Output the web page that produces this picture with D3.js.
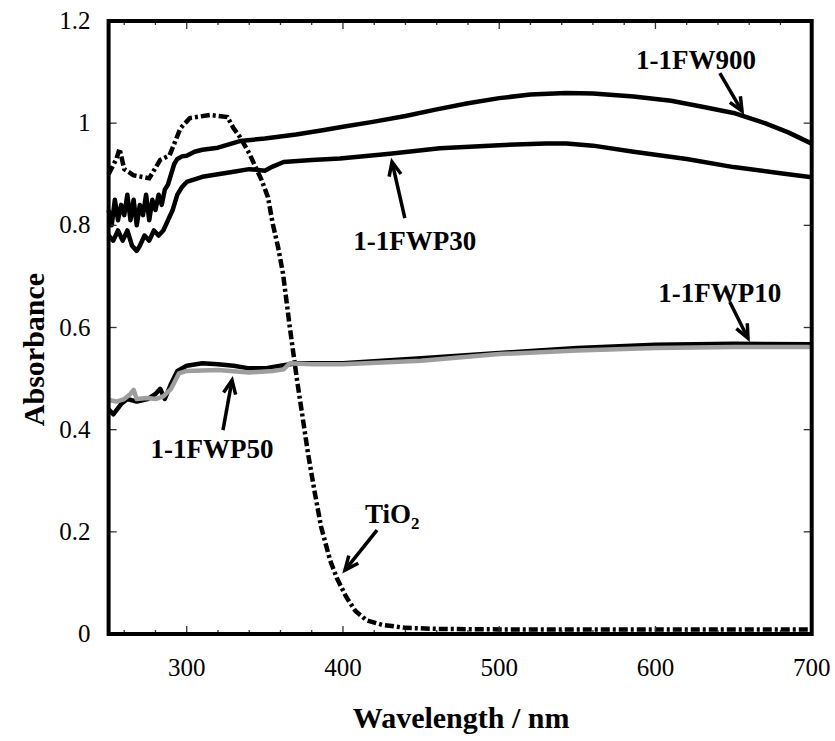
<!DOCTYPE html>
<html>
<head>
<meta charset="utf-8">
<script src="https://cdn.jsdelivr.net/npm/d3@7"></script>
<style>
  body { margin: 0; background: #fff; }
  text { font-family: "Liberation Serif", "Times New Roman", serif; fill: #000; }
</style>
</head>
<body>
<svg id="chart" width="835" height="741"></svg>
<script>
// spectra, [wavelength (nm), absorbance]
var fw900 = [[250,0.83],[252,0.80],[254,0.85],[256,0.81],[258,0.84],[260,0.82],[262,0.86],[264,0.81],
  [266,0.85],[268,0.80],[270,0.84],[272,0.82],[274,0.86],[276,0.81],[278,0.85],[280,0.83],[282,0.86],
  [284,0.84],[286,0.87],[288,0.88],[290,0.90],[292,0.92],[294,0.93],[297,0.935],[300,0.936],[305,0.944],
  [310,0.948],[320,0.952],[334,0.965],[350,0.97],[370,0.978],[387,0.986],[400,0.993],[420,1.003],
  [440,1.014],[460,1.027],[480,1.039],[500,1.049],[520,1.056],[543,1.059],[560,1.058],[586,1.052],
  [610,1.044],[630,1.032],[650,1.02],[670,1.0],[685,0.982],[700,0.96]];

var fwp30 = [[250,0.78],[253,0.77],[256,0.79],[259,0.77],[262,0.79],[265,0.76],[268,0.75],[270,0.76],
  [273,0.78],[276,0.77],[279,0.79],[282,0.78],[285,0.79],[288,0.81],[291,0.83],[294,0.86],[297,0.875],
  [300,0.885],[305,0.89],[310,0.895],[320,0.90],[330,0.905],[340,0.91],[350,0.907],[355,0.915],
  [362,0.924],[380,0.928],[398,0.931],[430,0.94],[462,0.951],[500,0.957],[530,0.96],[543,0.96],
  [560,0.956],[586,0.944],[620,0.93],[650,0.914],[680,0.902],[700,0.894]];

var fwp10 = [[250,0.44],[253,0.43],[258,0.45],[262,0.46],[268,0.455],[275,0.46],[280,0.47],[283,0.48],
  [286,0.46],[290,0.49],[294,0.515],[300,0.525],[310,0.53],[320,0.528],[330,0.525],[340,0.52],
  [350,0.52],[360,0.525],[370,0.53],[400,0.53],[450,0.54],[500,0.55],[550,0.56],[600,0.566],
  [650,0.568],[700,0.567]];

var fwp50 = [[250,0.458],[255,0.455],[260,0.46],[264,0.47],[266,0.478],[268,0.46],[275,0.462],
  [280,0.46],[285,0.465],[290,0.48],[295,0.51],[300,0.515],[320,0.517],[340,0.512],[355,0.515],
  [362,0.518],[366,0.53],[380,0.528],[400,0.528],[450,0.535],[500,0.548],[550,0.555],[600,0.56],
  [650,0.562],[700,0.562]];

var tio2 = [[250,0.90],[255,0.93],[257,0.95],[260,0.91],[266,0.898],[276,0.892],[283,0.928],
  [289,0.937],[296,0.99],[302,1.01],[315,1.016],[326,1.012],[330,0.99],[334,0.973],[340,0.941],
  [348,0.888],[352,0.855],[355,0.804],[358.5,0.757],[361.6,0.706],[366,0.60],[370.6,0.497],
  [373.8,0.432],[377.6,0.354],[382,0.276],[386,0.21],[391.7,0.145],[396,0.11],[402,0.073],
  [408,0.045],[415,0.027],[425,0.018],[440,0.012],[460,0.01],[500,0.009],[600,0.009],[700,0.009]];

var xMinor = d3.range(260, 701, 20);
var xMajor = [300, 400, 500, 600, 700];
var yMajor = [0, 0.2, 0.4, 0.6, 0.8, 1.0, 1.2];

// annotations: label position and arrow (tail -> tip) in data units
var notes = [
  { text: '1-1FW900', at: [626, 1.106], tail: [641.2, 1.098], tip: [655.4, 1.0235] },
  { text: '1-1FWP30', at: [446, 0.751], tail: [439.6, 0.814], tip: [431.4, 0.924] },
  { text: '1-1FWP10', at: [641.2, 0.650], tail: [647.6, 0.650], tip: [659.2, 0.579] },
  { text: '1-1FWP50', at: [316.2, 0.344], tail: [323.2, 0.399], tip: [329, 0.497] }
];

var width = 835, height = 741;
var margin = { top: 21, right: 23.3, bottom: 107, left: 108.6 };

var svg = d3.select('#chart');

var x = d3.scaleLinear().domain([250, 700]).range([margin.left, width - margin.right]);
var y = d3.scaleLinear().domain([0, 1.2]).range([height - margin.bottom, margin.top]);

var x0 = x.range()[0], x1 = x.range()[1], y0 = y.range()[0], y1 = y.range()[1];

var line = d3.line()
  .x(function (d) { return x(d[0]); })
  .y(function (d) { return y(d[1]); });

var plot = svg.append('g');

//TiO2 reference, dash-dot
plot.append('path')
  .datum(tio2)
  .attr('d', line)
  .attr('fill', 'none')
  .attr('stroke', '#000')
  .attr('stroke-width', 4.5)
  .attr('stroke-dasharray', '9,3,3,3');

[fw900, fwp30, fwp10].forEach(function (s) {
  plot.append('path')
    .datum(s)
    .attr('d', line)
    .attr('fill', 'none')
    .attr('stroke', '#000')
    .attr('stroke-width', 4.5)
    .attr('stroke-linejoin', 'round');
});

plot.append('path')
  .datum(fwp50)
  .attr('d', line)
  .attr('fill', 'none')
  .attr('stroke', '#9e9e9e')
  .attr('stroke-width', 4.5)
  .attr('stroke-linejoin', 'round');

// ticks, all pointing inwards
var ticks = svg.append('g').attr('stroke', '#333').attr('stroke-width', 1.3);

xMinor.forEach(function (v) {
  var len = xMajor.indexOf(v) >= 0 ? 8 : 4;
  ticks.append('line').attr('x1', x(v)).attr('x2', x(v)).attr('y1', y0).attr('y2', y0 - len);
  ticks.append('line').attr('x1', x(v)).attr('x2', x(v)).attr('y1', y1).attr('y2', y1 + len);
});

yMajor.forEach(function (v) {
  ticks.append('line').attr('x1', x0).attr('x2', x0 + 8).attr('y1', y(v)).attr('y2', y(v));
  ticks.append('line').attr('x1', x1).attr('x2', x1 - 8).attr('y1', y(v)).attr('y2', y(v));
});

// frame
svg.append('rect')
  .attr('x', x0).attr('y', y1)
  .attr('width', x1 - x0).attr('height', y0 - y1)
  .attr('fill', 'none')
  .attr('stroke', '#000')
  .attr('stroke-width', 4);

// tick labels
svg.append('g').selectAll('text')
  .data(xMajor)
  .enter().append('text')
  .attr('x', function (d) { return x(d); })
  .attr('y', y0 + 42)
  .attr('text-anchor', 'middle')
  .attr('font-size', 25)
  .text(function (d) { return d; });

svg.append('g').selectAll('text')
  .data(yMajor)
  .enter().append('text')
  .attr('x', x0 - 18)
  .attr('y', function (d) { return y(d) + 8; })
  .attr('text-anchor', 'end')
  .attr('font-size', 25)
  .text(function (d) { return String(+d.toFixed(1)); });

// axis titles
svg.append('text')
  .attr('x', (x0 + x1) / 2 + 1)
  .attr('y', 728)
  .attr('text-anchor', 'middle')
  .attr('font-size', 30)
  .attr('font-weight', 'bold')
  .text('Wavelength / nm');

svg.append('text')
  .attr('transform', 'translate(44,' + ((y0 + y1) / 2 + 22) + ') rotate(-90)')
  .attr('text-anchor', 'middle')
  .attr('font-size', 30)
  .attr('font-weight', 'bold')
  .text('Absorbance');

// arrow helper: shaft plus an open V head
function arrow(g, tail, tip) {
  var ax = x(tail[0]), ay = y(tail[1]), bx = x(tip[0]), by = y(tip[1]);
  var ang = Math.atan2(by - ay, bx - ax), hl = 15, hw = 0.42;
  g.append('line')
    .attr('x1', ax).attr('y1', ay).attr('x2', bx).attr('y2', by)
    .attr('stroke', '#000').attr('stroke-width', 3.5);
  g.append('path')
    .attr('d', 'M' + (bx - hl * Math.cos(ang - hw)) + ',' + (by - hl * Math.sin(ang - hw)) +
      'L' + bx + ',' + by +
      'L' + (bx - hl * Math.cos(ang + hw)) + ',' + (by - hl * Math.sin(ang + hw)))
    .attr('fill', 'none').attr('stroke', '#000').attr('stroke-width', 3.5)
    .attr('stroke-linejoin', 'miter');
}

var ann = svg.append('g');

notes.forEach(function (n) {
  ann.append('text')
    .attr('x', x(n.at[0]))
    .attr('y', y(n.at[1]))
    .attr('text-anchor', 'middle')
    .attr('font-size', 27)
    .attr('font-weight', 'bold')
    .text(n.text);
  arrow(ann, n.tail, n.tip);
});

// TiO2 label with subscript
var tioText = ann.append('text')
  .attr('x', x(414.1))
  .attr('y', y(0.217))
  .attr('font-size', 27)
  .attr('font-weight', 'bold');
tioText.append('tspan').text('TiO');
tioText.append('tspan').attr('font-size', 17).attr('dy', 6).text('2');
arrow(ann, [421.8, 0.2035], [401.3, 0.125]);
</script>
</body>
</html>
